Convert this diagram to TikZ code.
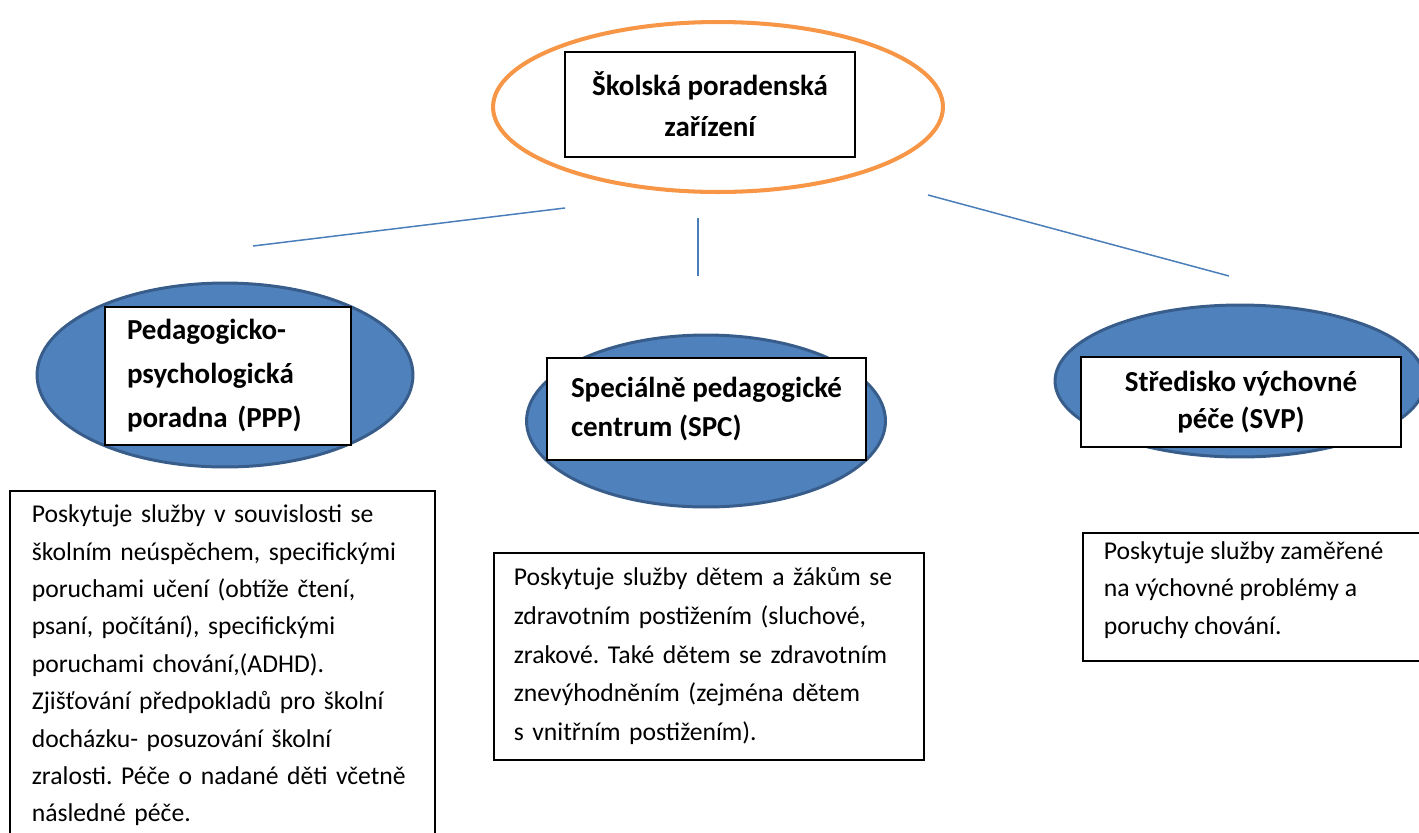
\documentclass[tikz,border=0pt]{standalone}
\usepackage{fontspec}
\setmainfont{Carlito}
\usetikzlibrary{shapes.geometric}
\definecolor{ringorange}{HTML}{F79646}
\definecolor{ovalblue}{HTML}{4F81BD}
\definecolor{ovaledge}{HTML}{385D8A}
\definecolor{linkblue}{HTML}{4A7EBB}
\tikzset{ring/.style = {draw = ringorange, line width = 2.3pt, ellipse, inner sep = 0}}
\tikzset{oval/.style = {fill = ovalblue, draw = ovaledge, line width = 1.7pt, ellipse, inner sep = 0}}
\tikzset{titlebox/.style = {draw, fill = white, line width = 0.9pt, inner ysep = 0, font = \fontsize{16.5}{23.5}\selectfont\bfseries}}
\tikzset{infobox/.style = {draw, fill = white, line width = 0.9pt, anchor = north west, align = left, inner ysep = 0.3cm, font = \fontsize{14.6}{21.3}\selectfont}}
\tikzset{link/.style = {draw = linkblue, line width = 0.85pt}}
\frenchspacing

\begin{document}
\begin{tikzpicture}[x = 0.02cm, y = -0.02cm]
    \useasboundingbox (0, 0) rectangle (1419, 832);
    \clip (0, 0) rectangle (1419, 832);

    \node [ring, minimum width = 9cm, minimum height = 3.4cm] (top) at (718, 107) {};
    \node [titlebox, minimum width = 5.8cm, minimum height = 2.1cm, align = center] (topbox) at (710, 104.5)
      {Školská poradenská\\zařízení};

    \node [oval, minimum width = 7.52cm, minimum height = 3.68cm] (ppp) at (225, 375) {};
    \node [titlebox, text width = 4.04cm, inner xsep = 0.44cm, minimum height = 2.76cm, align = left,
      font = \fontsize{16.5}{25}\selectfont\bfseries] (pppbox) at (228, 376)
      {Pedagogicko-\\psychologická\\poradna (PPP)};

    \node [oval, minimum width = 7.18cm, minimum height = 3.44cm] (spc) at (706, 421) {};
    \node [titlebox, minimum width = 6.38cm, minimum height = 2.04cm, align = left,
      font = \fontsize{16.5}{22}\selectfont\bfseries] (spcbox) at (706.5, 409)
      {Speciálně pedagogické\\centrum (SPC)};

    \node [oval, minimum width = 7.4cm, minimum height = 3.04cm] (svp) at (1240, 381) {};
    \node [titlebox, minimum width = 6.4cm, minimum height = 1.8cm, align = center,
      font = \fontsize{16.5}{21}\selectfont\bfseries] (svpbox) at (1241, 402)
      {Středisko výchovné\\péče (SVP)};

    \coordinate (pppend) at (253, 246);
    \coordinate (spcend) at (698, 276);
    \coordinate (svpend) at (1229, 276);
    \coordinate (pppstart) at (565, 208);
    \coordinate (spcstart) at (698, 218);
    \coordinate (svpstart) at (928, 195);
    \draw [link] (pppstart) -- (pppend);
    \draw [link] (spcstart) -- (spcend);
    \draw [link] (svpstart) -- (svpend);

    \node [infobox, text width = 7.62cm, inner xsep = 0.44cm, inner ysep = 0.28cm] (pppinfo) at (9, 490)
      {Poskytuje služby v souvislosti se\\školním neúspěchem, specifickými\\poruchami učení (obtíže čtení,\\psaní, počítání), specifickými\\poruchami chování,(ADHD).\\Zjišťování předpokladů pro školní\\docházku- posuzování školní\\zralosti. Péče o nadané děti včetně\\následné péče.};
    \node [infobox, text width = 7.8cm, inner xsep = 0.4cm, minimum height = 4.12cm, font = \fontsize{14.6}{22}\selectfont] (spcinfo) at (493, 552)
      {Poskytuje služby dětem a žákům se\\zdravotním postižením (sluchové,\\zrakové. Také dětem se zdravotním\\znevýhodněním (zejména dětem\\s vnitřním postižením).};
    \node [infobox, inner xsep = 0.42cm, inner ysep = 0] (svpinfo) at (1082, 532)
      {\parbox[c][2.56cm][t]{6.36cm}{\vspace*{5pt}Poskytuje služby zaměřené\\na výchovné problémy a\\poruchy chování.}};
\end{tikzpicture}
\end{document}
